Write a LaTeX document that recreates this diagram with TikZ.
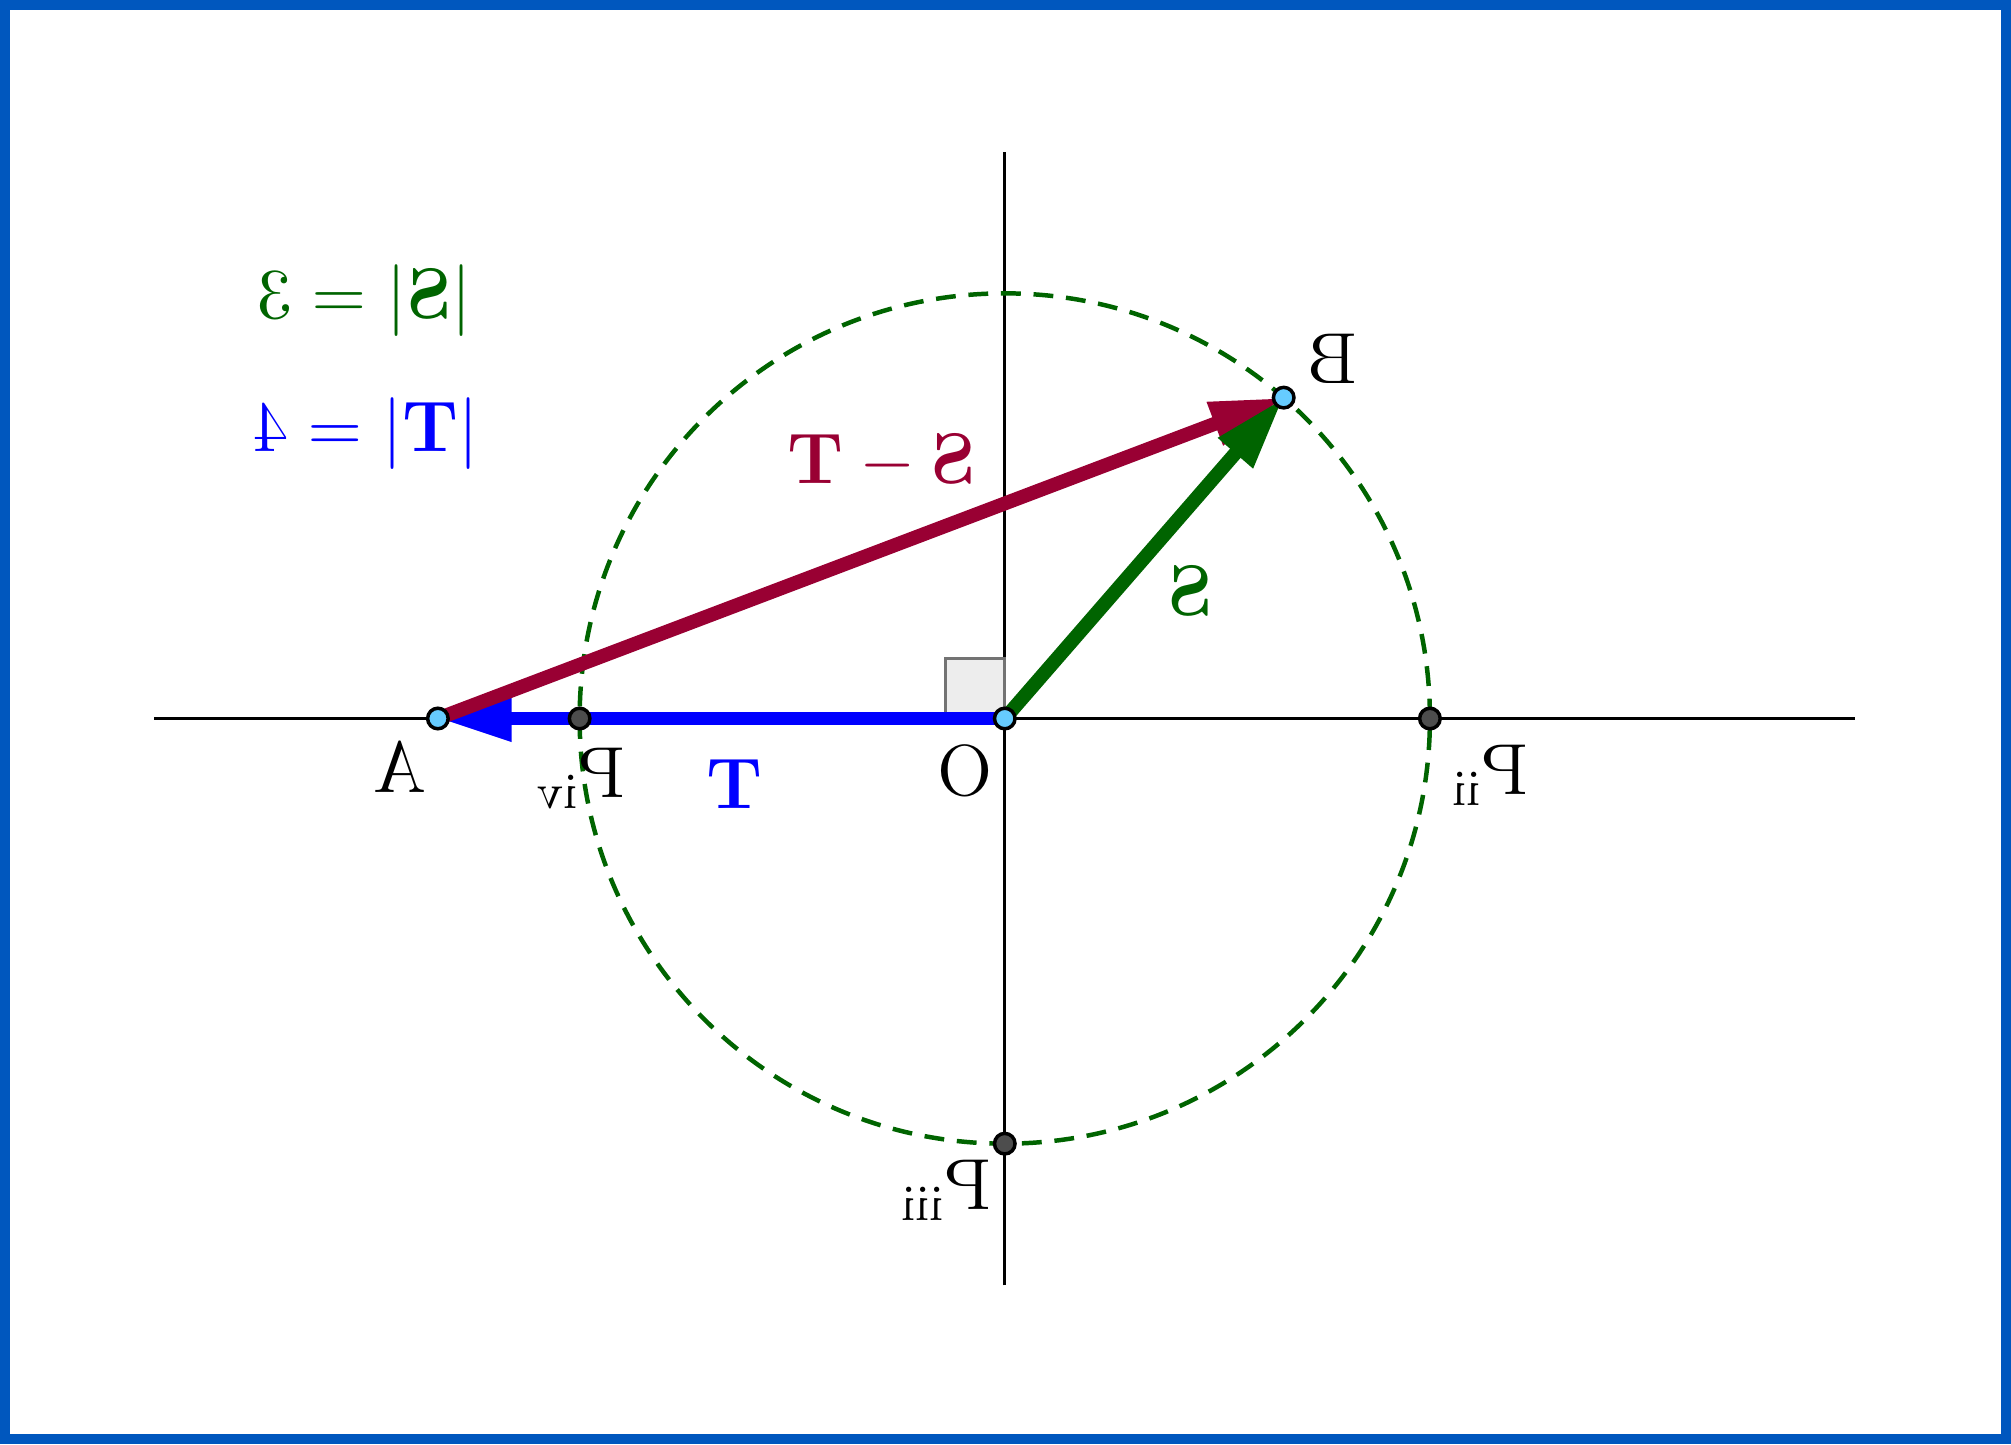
\documentclass[tikz,border=0pt]{standalone}
\usetikzlibrary{arrows.meta}
\usetikzlibrary{positioning}

\definecolor{frameblue}{RGB}{0,87,190}
\definecolor{diffred}{RGB}{153,0,51}
\definecolor{sgreen}{RGB}{0,100,0}
\definecolor{tblue}{RGB}{0,0,255}
\definecolor{freefill}{RGB}{102,204,255}
\definecolor{fixfill}{RGB}{77,77,77}

\tikzset{
  flip/.style={xscale=-1, inner sep=0pt, font=\fontsize{14.5}{17}\selectfont},
  freept/.style={circle, draw=black, fill=freefill, line width=0.7pt, inner sep=0pt, minimum size=1.45mm},
  fixpt/.style={circle, draw=black, fill=fixfill, line width=0.7pt, inner sep=0pt, minimum size=1.45mm},
  vec/.style={line width=2.8pt, -{Triangle[length=5.2mm,width=3mm]}},
}

\begin{document}
\begin{tikzpicture}
 \useasboundingbox (-7.09,-5.12) rectangle (7.10,5.07);
 \draw[frameblue, line width=0.7mm] (-7.055,-5.085) rectangle (7.065,5.035);

 \coordinate (O)   at (0,0);
 \coordinate (A)   at (-4,0);
 \coordinate (B)   at (49:3);
 \coordinate (Pii) at (3,0);
 \coordinate (Piii) at (0,-3);
 \coordinate (Piv) at (-3,0);

 % axes and circle |S| = 3
 \draw[line width=0.6pt] (-6,0) -- (6,0);
 \draw[line width=0.6pt] (0,-4) -- (0,4);
 \draw[sgreen, line width=0.9pt, dash pattern=on 1.4mm off 0.9mm] (O) circle (3);
 \draw[draw=black!55, fill=black!7, line width=0.6pt] (O) rectangle (-0.42,0.42);

 % vectors
 \draw[vec, tblue]   (O) -- (A);
 \draw[vec, diffred] (A) -- (B);
 \draw[vec, sgreen]  (O) -- (B);

 \node[fixpt]  at (Pii)  {};
 \node[fixpt]  at (Piii) {};
 \node[fixpt]  at (Piv)  {};
 \node[freept] at (A)    {};
 \node[freept] at (O)    {};
 \node[freept] at (B)    {};

 % labels
 \node[flip, name=lblO]    at (-0.28,-0.37) {O};
 \node[flip, name=lblA]    at (-4.27,-0.34) {A};
 \node[flip, name=lblB]    at (2.31,2.54)   {B};
 \node[flip, name=lblPii]  at (3.42,-0.40)  {P$_{\mathrm{ii}}$};
 \node[flip, name=lblPiii] at (-0.42,-3.33) {P$_{\mathrm{iii}}$};
 \node[flip, name=lblPiv]  at (-3.0,-0.42)  {P$_{\mathrm{iv}}$};

 \node[flip, tblue,   name=lblT]    at (-1.91,-0.46) {$\mathbf{T}$};
 \node[flip, sgreen,  name=lblS]    at (1.31,0.90)   {$\mathbf{S}$};
 \node[flip, diffred, name=lblDiff] at (-0.87,1.81)  {$\mathbf{S}-\mathbf{T}$};

 \node[flip, sgreen, name=normS] at (-4.52,2.95) {$|\mathbf{S}| = 3$};
 \node[flip, tblue,  name=normT] at (-4.51,2.01) {$|\mathbf{T}| = 4$};
\end{tikzpicture}
\end{document}
